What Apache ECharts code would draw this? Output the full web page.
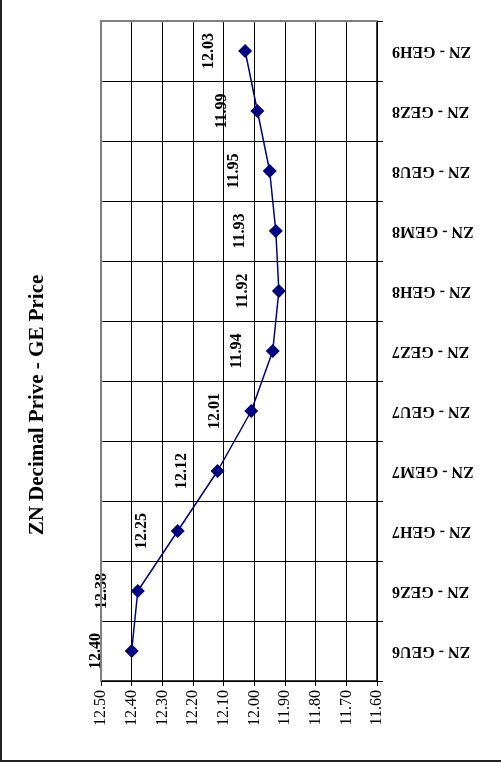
<!DOCTYPE html>
<html>
<head>
<meta charset="utf-8">
<script src="https://cdn.jsdelivr.net/npm/echarts@6/dist/echarts.min.js"></script>
<style>
  html, body { margin: 0; padding: 0; background: #fff; }
  #chart { width: 501px; height: 767px; }
</style>
</head>
<body>
<div id="chart"></div>
<script>
var categories = ['ZN - GEU6', 'ZN - GEZ6', 'ZN - GEH7', 'ZN - GEM7', 'ZN - GEU7', 'ZN - GEZ7',
                  'ZN - GEH8', 'ZN - GEM8', 'ZN - GEU8', 'ZN - GEZ8', 'ZN - GEH9'];
var prices = [12.40, 12.38, 12.25, 12.12, 12.01, 11.94, 11.92, 11.93, 11.95, 11.99, 12.03];
var titleText = 'ZN Decimal Prive - GE Price';
var valueMin = 11.6, valueMax = 12.5, valueStep = 0.1;

var serif = '"Liberation Serif", "Times New Roman", serif';

var chart = echarts.init(document.getElementById('chart'));
var option = {
    backgroundColor: '#fff',
    animation: false,
    grid: {
        left: 101,
        right: 124,
        top: 21,
        bottom: 86
    },
    xAxis: {
        type: 'value',
        inverse: true,
        min: valueMin,
        max: valueMax,
        interval: valueStep,
        axisLine: { show: true, lineStyle: { color: '#000', width: 1.5 } },
        axisTick: { show: true, length: 5, lineStyle: { color: '#000' } },
        axisLabel: {
            rotate: 90,
            margin: 9,
            color: '#000',
            fontFamily: serif,
            fontSize: 16,
            formatter: function (v) { return v.toFixed(2); }
        },
        splitLine: { show: true, lineStyle: { color: '#000', width: 1 } }
    },
    yAxis: {
        type: 'category',
        position: 'right',
        data: categories,
        boundaryGap: true,
        axisLine: { show: true, lineStyle: { color: '#000', width: 1.5 } },
        axisTick: { show: true, length: 6, lineStyle: { color: '#000' } },
        axisLabel: {
            rotate: 180,
            margin: 15,
            color: '#000',
            fontFamily: serif,
            fontWeight: 'bold',
            fontSize: 16
        },
        splitLine: { show: true, lineStyle: { color: '#000', width: 1 } }
    },
    series: [{
        type: 'line',
        data: prices,
        symbol: 'diamond',
        symbolSize: 14,
        lineStyle: { color: '#000080', width: 1.5 },
        itemStyle: { color: '#000080' },
        label: {
            show: true,
            position: 'left',
            distance: 29,
            rotate: 90,
            align: 'center',
            verticalAlign: 'middle',
            color: '#000',
            fontFamily: serif,
            fontWeight: 'bold',
            fontSize: 16,
            formatter: function (p) { return p.value.toFixed(2); }
        }
    }],
    graphic: [
        {
            type: 'rect',
            z: 100,
            shape: { x: 1, y: -10, width: 600, height: 771 },
            style: { fill: null, stroke: '#222', lineWidth: 2 }
        },
        {
            type: 'polyline',
            z: 50,
            shape: { points: [[101, 681], [101, 21], [377, 21]] },
            style: { fill: null, stroke: '#808080', lineWidth: 2 }
        },
        {
            type: 'text',
            x: 38,
            y: 405,
            rotation: Math.PI / 2,
            style: {
                text: titleText,
                fill: '#000',
                font: 'bold 21px ' + serif,
                align: 'center',
                verticalAlign: 'middle'
            }
        }
    ]
};
chart.setOption(option);
</script>
</body>
</html>
